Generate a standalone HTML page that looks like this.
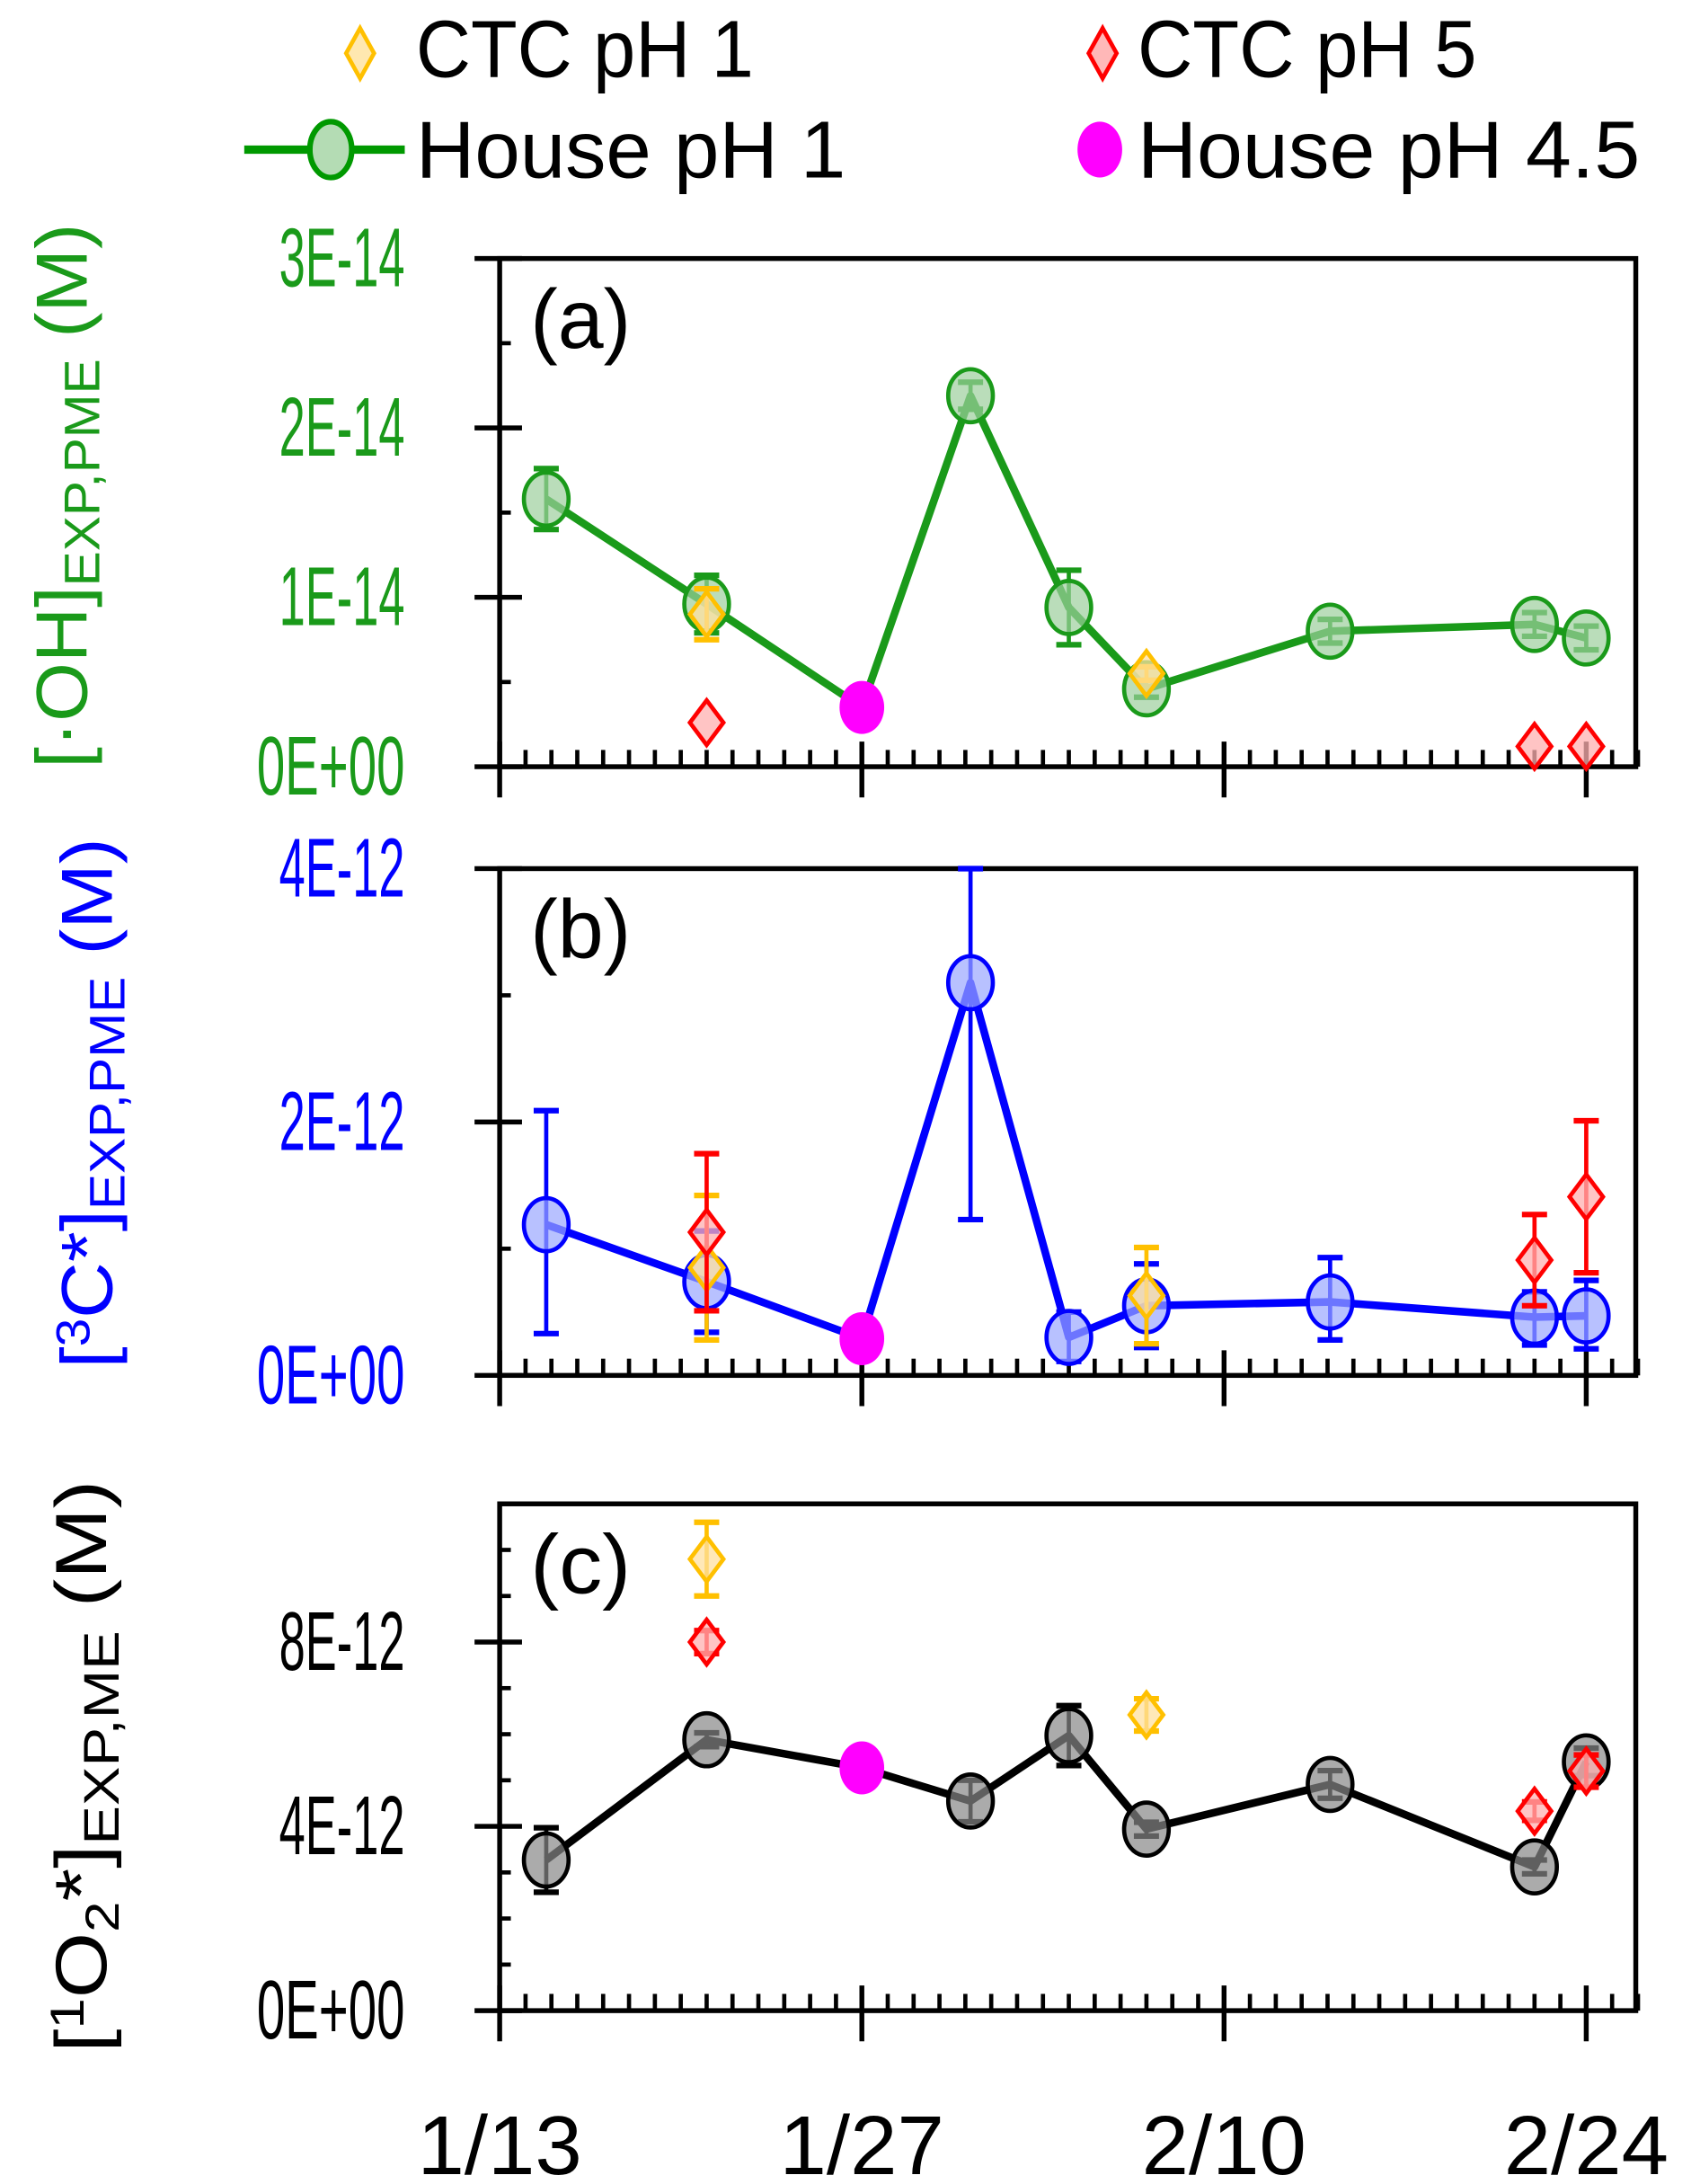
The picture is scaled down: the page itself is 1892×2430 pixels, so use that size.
<!DOCTYPE html>
<html><head><meta charset="utf-8"><style>
html,body{margin:0;padding:0;background:#fff;}
svg{display:block;}
text{font-family:"Liberation Sans",sans-serif;}
</style></head><body>
<svg id="chart" width="1892" height="2430" viewBox="0 0 1218 1564" xmlns="http://www.w3.org/2000/svg">
<g id="legend">
  <polygon points="258,20 268,38 258,56 248,38" fill="#ffe8b0" stroke="#ffc000" stroke-width="3"/>
  <text x="298" y="55" font-size="58" textLength="242" lengthAdjust="spacingAndGlyphs">CTC pH 1</text>
  <polygon points="790,20 800,38 790,56 780,38" fill="#ffb8b8" stroke="#ff0000" stroke-width="3"/>
  <text x="815" y="55" font-size="58" textLength="243" lengthAdjust="spacingAndGlyphs">CTC pH 5</text>
  <line x1="175" y1="107" x2="290" y2="107" stroke="#009900" stroke-width="6"/>
  <ellipse cx="237" cy="107" rx="15" ry="20" fill="#b4dcb4" stroke="#009900" stroke-width="4"/>
  <text x="298" y="127" font-size="58" textLength="308" lengthAdjust="spacingAndGlyphs">House pH 1</text>
  <ellipse cx="788" cy="107" rx="16" ry="20" fill="#ff00ff"/>
  <text x="815" y="127" font-size="58" textLength="360" lengthAdjust="spacingAndGlyphs">House pH 4.5</text>
</g>
<g id="plots"></g>
</svg>
<script>
// shared x axis (days since 1/13)
const xTickLabels = ["1/13","1/27","2/10","2/24"];
const xTickDays = [0,14,28,42];
const houseDays = [1.8,8,18.2,22,25,32.1,40,42];
const phDay = [14];

// panel a (units 1E-14)
const aHouse = [1.58,0.96,2.19,0.94,0.46,0.80,0.84,0.76];
const aHouseErr = [0.18,0.17,0.08,0.22,0.05,0.07,0.07,0.07];
const aPh45 = [0.35];
const aCtc1Days = [8,25];
const aCtc1 = [0.90,0.55];
const aCtc1Err = [0.15,0.04];
const aCtc5Days = [8,40,42];
const aCtc5 = [0.26,0.12,0.12];
const aCtc5Err = [0,0,0];
const aTicks = ["0E+00","1E-14","2E-14","3E-14"];

// panel b (units 1E-12)
const bHouse = [1.19,0.74,3.10,0.30,0.55,0.58,0.46,0.47];
const bHouseErrUp = [0.90,0.40,0.90,0.20,0.33,0.35,0.20,0.28];
const bHouseErrDn = [0.86,0.40,1.87,0.19,0.33,0.30,0.22,0.26];
const bPh45 = [0.29];
const bCtc1Days = [8,25];
const bCtc1 = [0.85,0.63];
const bCtc1Err = [0.57,0.38];
const bCtc5Days = [8,40,42];
const bCtc5 = [1.13,0.91,1.41];
const bCtc5Err = [0.62,0.36,0.60];
const bTicks = ["0E+00","2E-12","4E-12"];

// panel c (units 1E-12)
const cHouse = [3.27,5.88,4.55,5.97,3.94,4.91,3.12,5.40];
const cHouseErr = [0.70,0.15,0.45,0.65,0.15,0.30,0.15,0.30];
const cPh45 = [5.27];
const cCtc1Days = [8,25];
const cCtc1 = [9.80,6.42];
const cCtc1Err = [0.80,0.35];
const cCtc5Days = [8,40,42];
const cCtc5 = [8.00,4.33,5.20];
const cCtc5Err = [0.25,0.20,0.35];
const cTicks = ["0E+00","4E-12","8E-12"];

const NS="http://www.w3.org/2000/svg";
const root=document.getElementById('plots');
const X0=358, X1=1172, DAYPX=259.5/14;
function xs(d){return X0+d*DAYPX;}
function mk(tag,attrs,parent){const e=document.createElementNS(NS,tag);for(const k in attrs)e.setAttribute(k,attrs[k]);(parent||root).appendChild(e);return e;}

function errbar(g,x,y1,y2,color){
  const e1=mk('line',{x1:x,y1:y1,x2:x,y2:y2,stroke:color,'stroke-width':3},g);
  
  
  mk('line',{x1:x-9,y1:y1,x2:x+9,y2:y1,stroke:color,'stroke-width':4},g);
  mk('line',{x1:x-9,y1:y2,x2:x+9,y2:y2,stroke:color,'stroke-width':4},g);
}

function panel(o){
  const g=mk('g',{});
  
  
  const ys=v=>o.bot-(v/o.max)*(o.bot-o.top);
  const fr=mk('rect',{x:X0,y:o.top,width:X1-X0,height:o.bot-o.top,fill:'none',stroke:'#000','stroke-width':3.5},g);
  
  
  for(let v=0;v<=o.max+1e-9;v+=o.minor){
    const y=ys(v);
    const isMaj=Math.abs(v/o.major-Math.round(v/o.major))<1e-6;
    if(isMaj){mk('line',{x1:X0-18,y1:y,x2:X0+16,y2:y,stroke:'#000','stroke-width':3.5},g);}
    else{mk('line',{x1:X0,y1:y,x2:X0+8,y2:y,stroke:'#000','stroke-width':3},g);}
  }
  o.ticks.forEach((t,i)=>{
    const tx=mk('text',{x:290,y:ys(i*o.major)+20,'text-anchor':'end','font-size':60,fill:o.color,textLength:(i==0?106:90),lengthAdjust:'spacingAndGlyphs'},g);
    tx.textContent=t;
    
    
  });
  for(let d=1;d<=44;d++){const x=xs(d);mk('line',{x1:x,y1:o.bot,x2:x,y2:o.bot-12,stroke:'#000','stroke-width':3},g);}
  xTickDays.forEach(d=>{const x=xs(d);mk('line',{x1:x,y1:o.bot-18,x2:x,y2:o.bot+22,stroke:'#000','stroke-width':3.5},g);});
  const pl=mk('text',{x:380,y:o.top+64,'font-size':60,fill:'#000',textLength:72,lengthAdjust:'spacingAndGlyphs'},g);
  pl.textContent='('+o.id+')';
  
  
  const tt=mk('text',{transform:'translate('+(o.tx)+','+o.tcy+') rotate(-90)','text-anchor':'middle','font-size':52,fill:o.color,textLength:o.tlen,lengthAdjust:'spacingAndGlyphs'},g);
  tt.innerHTML=o.title;
  
  
  const pts=[];
  const all=houseDays.map((d,i)=>[d,o.house[i]]);
  all.splice(2,0,[phDay[0],o.ph45[0]]);
  all.forEach(p=>pts.push(xs(p[0])+','+ys(p[1])));
  const pl2=mk('polyline',{points:pts.join(' '),fill:'none',stroke:o.color,'stroke-width':5.5,'stroke-linejoin':'round'},g);
  
  
  houseDays.forEach((d,i)=>{
    const x=xs(d),y=ys(o.house[i]);
    const up=o.errUp?o.errUp[i]:o.err[i], dn=o.errDn?o.errDn[i]:o.err[i];
    errbar(g,x,ys(o.house[i]+up),ys(o.house[i]-dn),o.color);
    const c=mk('ellipse',{cx:x,cy:y,rx:16,ry:19,fill:o.fill,'fill-opacity':0.7,stroke:o.color,'stroke-width':3},g);
    
    
  });
  const m=mk('ellipse',{cx:xs(phDay[0]),cy:ys(o.ph45[0]),rx:16,ry:19,fill:'#ff00ff'},g);
  
  
  function diamonds(days,vals,errs,stroke,fill,name){
    days.forEach((d,i)=>{
      const x=xs(d),y=ys(vals[i]);
      if(errs[i]>0)errbar(g,x,ys(vals[i]+errs[i]),ys(vals[i]-errs[i]),stroke);
      const p=mk('polygon',{points:`${x},${y-16} ${x+12},${y} ${x},${y+16} ${x-12},${y}`,fill:fill,'fill-opacity':0.75,stroke:stroke,'stroke-width':3},g);
      
      
    });
  }
  diamonds(o.c1d,o.c1,o.c1e,'#ffc000','#ffe0a0','ctc-ph1-point');
  diamonds(o.c5d,o.c5,o.c5e,'#ff0000','#ffb0b0','ctc-ph5-point');
}

panel({id:'a',top:185,bot:549,max:3,major:1,minor:0.5,color:'#1a9a1a',fill:'#9ccf9c',ticks:aTicks,
  house:aHouse,err:aHouseErr,ph45:aPh45,c1d:aCtc1Days,c1:aCtc1,c1e:aCtc1Err,c5d:aCtc5Days,c5:aCtc5,c5e:aCtc5Err,
  tx:62,tcy:355,tlen:390,title:'[·OH]<tspan font-size="36" dy="9">EXP,PME</tspan><tspan dy="-9"> (M)</tspan>'});
panel({id:'b',top:622,bot:985,max:4,major:2,minor:1,color:'#0000ff',fill:'#9aa6ff',ticks:bTicks,
  house:bHouse,errUp:bHouseErrUp,errDn:bHouseErrDn,ph45:bPh45,c1d:bCtc1Days,c1:bCtc1,c1e:bCtc1Err,c5d:bCtc5Days,c5:bCtc5,c5e:bCtc5Err,
  tx:80,tcy:790,tlen:380,title:'[<tspan font-size="34" dy="-16">3</tspan><tspan dy="16">C*]</tspan><tspan font-size="36" dy="9">EXP,PME</tspan><tspan dy="-9"> (M)</tspan>'});
panel({id:'c',top:1077,bot:1440,max:11,major:4,minor:1,color:'#000000',fill:'#888888',ticks:cTicks,
  house:cHouse,err:cHouseErr,ph45:cPh45,c1d:cCtc1Days,c1:cCtc1,c1e:cCtc1Err,c5d:cCtc5Days,c5:cCtc5,c5e:cCtc5Err,
  tx:76,tcy:1265,tlen:410,title:'[<tspan font-size="34" dy="-16">1</tspan><tspan dy="16">O</tspan><tspan font-size="34" dy="9">2</tspan><tspan dy="-9">*]</tspan><tspan font-size="36" dy="9">EXP,ME</tspan><tspan dy="-9"> (M)</tspan>'});

xTickLabels.forEach((t,i)=>{
  const tx=mk('text',{x:xs(xTickDays[i]),y:1557,'text-anchor':'middle','font-size':60,fill:'#000',textLength:118,lengthAdjust:'spacingAndGlyphs'});
  tx.textContent=t;
  
  
});
</script>
</body></html>
